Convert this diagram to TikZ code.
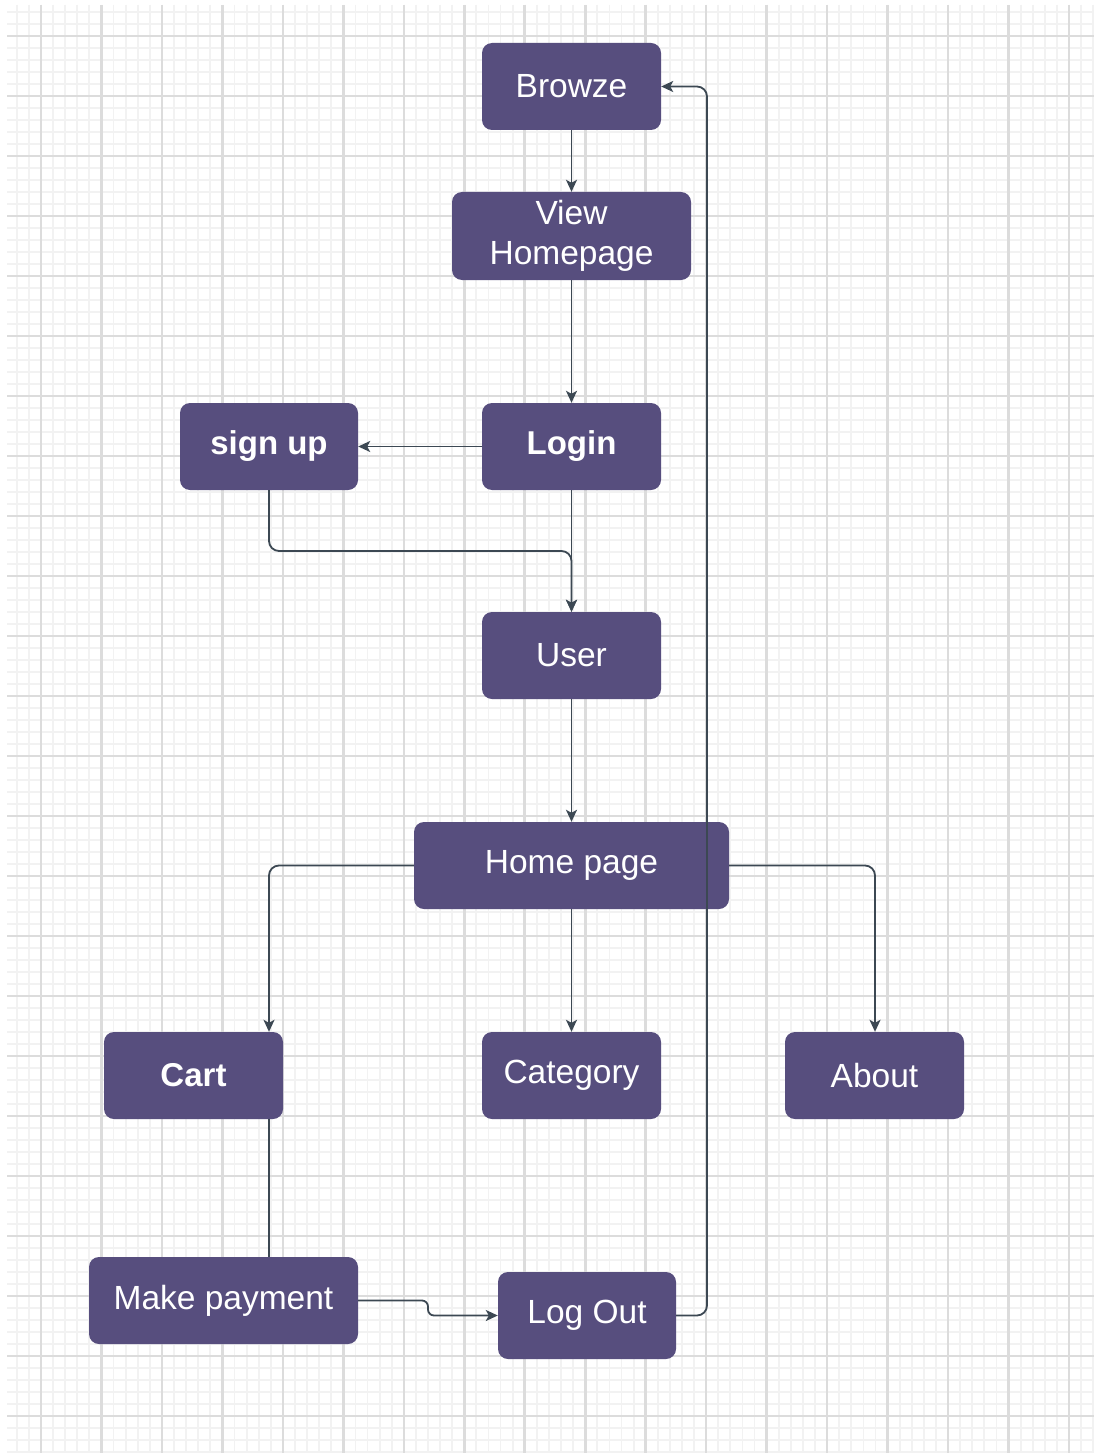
\documentclass[tikz,border=0pt]{standalone}
\usepackage{fontspec}
\setmainfont{Liberation Sans}
\usetikzlibrary{arrows.meta}
\definecolor{boxfill}{HTML}{574E7E}
\definecolor{edgecol}{HTML}{3C4853}
\definecolor{gridmajor}{HTML}{DCDCDC}
\definecolor{gridminor}{HTML}{F2F2F2}
\tikzset{
  box/.style={draw=none, fill=boxfill, rounded corners=10pt, text=white,
    minimum height=87pt, inner sep=0pt, align=center,
    font=\fontsize{33.5}{40}\selectfont},
  boldbox/.style={box, font=\fontsize{33}{40}\selectfont\bfseries},
  conn/.style={draw=edgecol, line width=1.8pt, rounded corners=10pt},
  arr/.style={conn, -{Stealth[length=12pt,width=11pt,inset=3pt]}}
}
\begin{document}
\begin{tikzpicture}[x=1pt,y=-1pt]
\useasboundingbox (0,0) rectangle (1096,1455);
\fill[white] (0,0) rectangle (1096,1455);
% grid
\foreach \k in {-2,...,87} {
  \draw[gridminor, line width=1.8pt] ({41+12.094*\k},5) -- ({41+12.094*\k},1453);
}
\foreach \k in {-2,...,118} {
  \draw[gridminor, line width=1.8pt] (7,{36+12*\k}) -- (1094,{36+12*\k});
}
\foreach \k in {0,...,17} {
  \draw[gridmajor, line width=2.6pt] ({41+60.47*\k},5) -- ({41+60.47*\k},1453);
}
\foreach \k in {0,...,23} {
  \draw[gridmajor, line width=2.6pt] (7,{36+60*\k}) -- (1094,{36+60*\k});
}
% nodes
\node[box, minimum width=179pt] (browze) at (571.5,86.5) {Browze};
\node[box, minimum width=239pt, minimum height=88pt] (view) at (571.5,236) {View\\Homepage};
\node[boldbox, minimum width=179pt] (login) at (571.5,446.5) {Login};
\node[boldbox, minimum width=178pt] (signup) at (269,446.5) {sign up};
\node[box, minimum width=179pt] (user) at (571.5,655.5) {User};
\node[box, minimum width=315pt] (home) at (571.5,865.5) {Home page};
\node[boldbox, minimum width=179pt] (cart) at (193.5,1075.5) {Cart};
\node[box, minimum width=179pt] (cat) at (571.5,1075.5) {Category};
\node[box, minimum width=179pt] (about) at (874.5,1075.5) {About};
\node[box, minimum width=269pt] (pay) at (223.5,1300.5) {Make payment};
\node[box, minimum width=178pt] (logout) at (587,1315.5) {Log Out};
\coordinate (rt) at (707,0);
\coordinate (midy) at (0,551);
\coordinate (cartx) at (269,0);
\coordinate (aboutx) at (875,0);
\coordinate (stepx) at (428,0);
% connectors
\draw[arr] (browze) -- (view);
\draw[arr] (view) -- (login);
\draw[arr] (login) -- (signup);
\draw[arr] (login) -- (user);
\draw[arr] (signup.south) -- (signup.south |- midy) -- (user.north |- midy) -- (user.north);
\draw[arr] (user) -- (home);
\draw[arr] (home.west) -- (home.west -| cartx) -- (cartx |- cart.north);
\draw[arr] (home) -- (cat);
\draw[arr] (home.east) -- (home.east -| aboutx) -- (aboutx |- about.north);
\draw[conn] (cartx |- cart.south) -- (cartx |- pay.north);
\draw[arr, rounded corners=6pt] (pay.east) -- (pay.east -| stepx) -- (stepx |- logout.west) -- (logout.west);
\draw[arr] (logout.east) -- (logout.east -| rt) -- (browze.east -| rt) -- (browze.east);
\end{tikzpicture}
\end{document}
